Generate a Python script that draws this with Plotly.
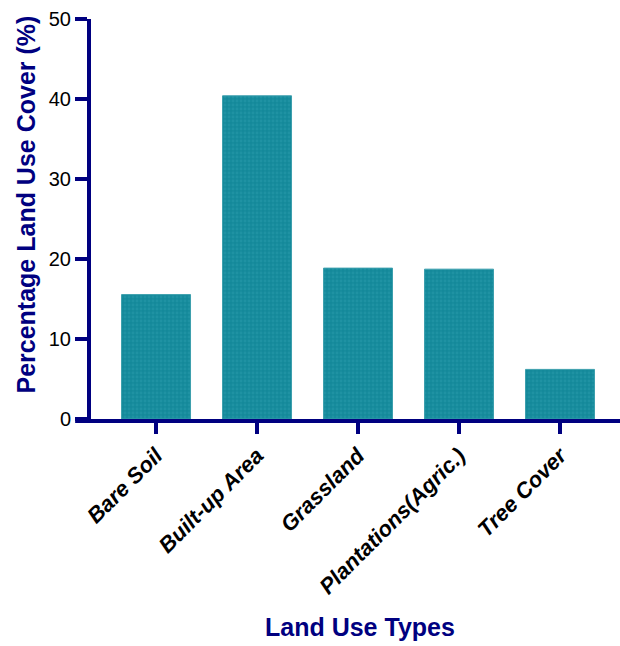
import plotly.graph_objects as go

categories = ["Bare Soil", "Built-up Area", "Grassland", "Plantations(Agric.)", "Tree Cover"]
values = [15.55, 40.4, 18.86, 18.73, 6.2]
y_ticks = [0, 10, 20, 30, 40, 50]

navy = "#000080"
teal = "#14899a"
font_family = "Liberation Sans, Arial, sans-serif"
lw = 4

fig = go.Figure(go.Bar(
    x=categories, y=values, width=0.683,
    marker=dict(color=teal, line=dict(color="#3c9fad", width=1),
                pattern=dict(shape=".", fgcolor="#2a9cac", size=4, solidity=0.4)),
))

fig.update_layout(
    width=620, height=646,
    margin=dict(l=91, r=0, t=19, b=227),
    plot_bgcolor="white", paper_bgcolor="white",
    showlegend=False,
    font=dict(family=font_family, color="black"),
)
fig.update_xaxes(
    range=[-0.644, 4.594], showline=True, linewidth=lw, linecolor=navy,
    showgrid=False, zeroline=False,
    ticks="outside", ticklen=11, tickwidth=lw, tickcolor=navy,
    tickangle=-45, tickfont=dict(size=22, family=font_family, weight="bold", style="italic"),
)
fig.update_yaxes(
    range=[0, 50], tickvals=y_ticks, showgrid=False, zeroline=False,
    showline=True, linewidth=lw, linecolor=navy,
    ticks="outside", ticklen=12, tickwidth=lw, tickcolor=navy,
    tickfont=dict(size=20, family=font_family),
)
# left overhang of the x axis line past the y axis
fig.add_shape(type="line", xref="paper", yref="paper", x0=-0.03, x1=0,
              y0=-lw / 2 / 400, y1=-lw / 2 / 400,
              line=dict(color=navy, width=lw), layer="above")
fig.add_annotation(text="<b>Percentage Land Use Cover (%)</b>", xref="paper", yref="paper",
                   x=-0.123, y=0.536, xanchor="center", yanchor="middle",
                   textangle=-90, showarrow=False,
                   font=dict(size=25, color=navy, family=font_family))
fig.add_annotation(text="<b>Land Use Types</b>", xref="paper", yref="paper",
                   x=0.508, y=-0.52, xanchor="center", yanchor="middle", showarrow=False,
                   font=dict(size=25, color=navy, family=font_family))
fig.write_html("out.html", config={"displayModeBar": False},
               post_script="document.body.style.margin='0';")
